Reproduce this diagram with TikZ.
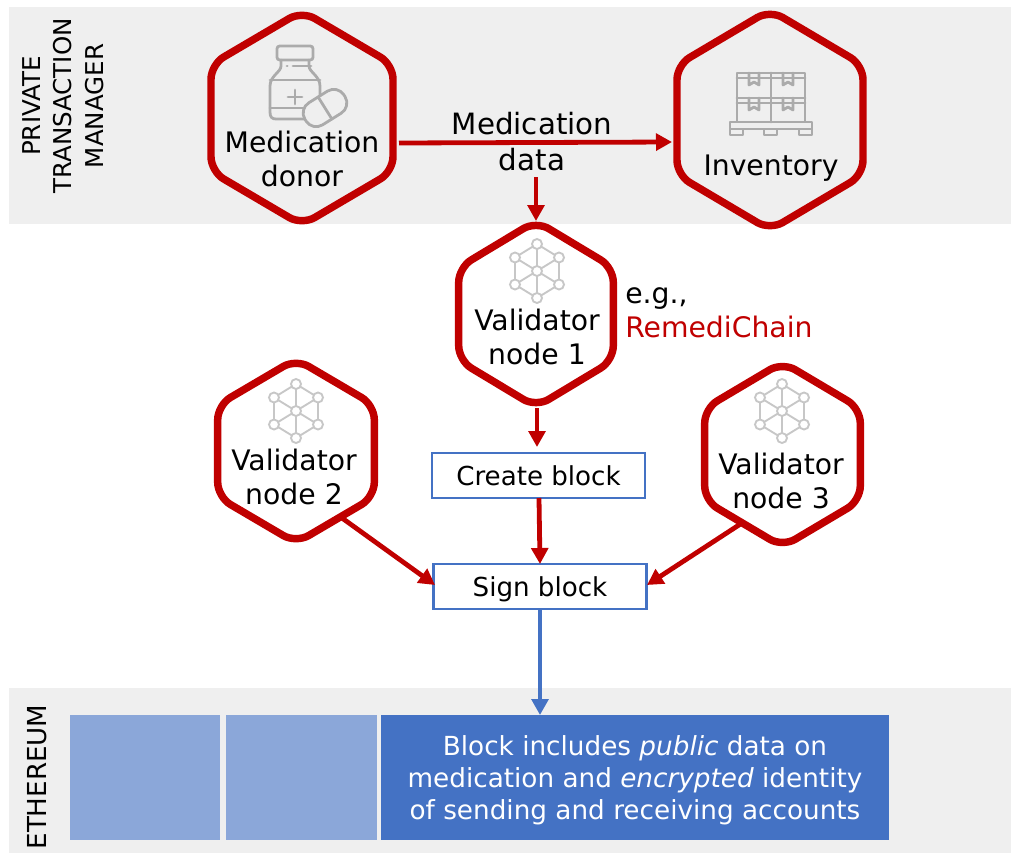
\documentclass[tikz,border=0pt]{standalone}
\usepackage{fontspec}
\setmainfont{DejaVu Sans}
\usetikzlibrary{calc,arrows.meta}
\definecolor{hexred}{HTML}{C00000}
\definecolor{band}{HTML}{EFEFEF}
\definecolor{bluedark}{HTML}{4472C4}
\definecolor{bluelight}{HTML}{8BA7D9}
\definecolor{icongrey}{HTML}{ABABAB}
\tikzset{
  x=0.75pt,y=-0.75pt,
  hexbox/.style={inner sep=0,outer sep=0},
  hexline/.style={draw=hexred,line width=5.6pt,rounded corners=11pt,fill=none,line join=round},
  redarrow/.style={draw=hexred,line width=3.6pt,-{Triangle[length=12pt,width=12.5pt]}},
  bluearrow/.style={draw=bluedark,line width=3.6pt,-{Triangle[length=12pt,width=12.5pt]}},
  blockbox/.style={draw=bluedark,line width=1.9pt,fill=white,inner sep=0,outer sep=0,text height=16pt,text depth=1.4pt,font=\fontsize{19.6pt}{22pt}\selectfont},
  hextext/.style={align=center,font=\fontsize{21.2pt}{25.7pt}\selectfont,inner sep=0},
  lab/.style={align=center,inner sep=0,font=\fontsize{22pt}{27pt}\selectfont},
  sidelab/.style={align=center,inner sep=0,rotate=90,font=\fontsize{18.4pt}{23.5pt}\selectfont},
  icon/.style={draw=icongrey,line width=2.1pt,line join=round,line cap=round},
  netw/.style={draw=black!22,line width=1.4pt}
}
% \hexa{name}{cx}{cy}{half width}{half height (sharp)}
\newcommand{\hexa}[5]{%
  \node[hexbox,minimum width=#4*1.5pt,minimum height=#5*1.5pt] (#1) at (#2,#3) {};
  \draw[hexline] (#1.north) -- ($(#1.north east)!0.25!(#1.south east)$) -- ($(#1.north east)!0.75!(#1.south east)$)
    -- (#1.south) -- ($(#1.north west)!0.75!(#1.south west)$) -- ($(#1.north west)!0.25!(#1.south west)$) -- cycle;
}
\newcommand{\netw}[2]{%
  \begin{scope}[shift={(#1,#2)}]
    \foreach \a/\b in {0/-27,22/-13.5,22/13.5,0/27,-22/13.5,-22/-13.5}{\draw[netw] (0,0) -- (\a,\b);}
    \draw[netw] (0,-27)--(22,-13.5)--(22,13.5)--(0,27)--(-22,13.5)--(-22,-13.5)--cycle;
    \foreach \a/\b in {0/0,0/-27,22/-13.5,22/13.5,0/27,-22/13.5,-22/-13.5}{\filldraw[netw,fill=white] (\a,\b) circle[radius=5];}
  \end{scope}}
\begin{document}
\begin{tikzpicture}
\useasboundingbox (0,0) rectangle (1011,854);
\fill[white] (0,0) rectangle (1011,854);
\fill[band] (9,7) rectangle (1011,224);
\fill[band] (9,688) rectangle (1011,853);
% side labels
\node[sidelab] (pm) at (63,106) {PRIVATE\\TRANSACTION\\MANAGER};
\node[sidelab,font=\fontsize{19.6pt}{23.5pt}\selectfont] (eth) at (37,777) {ETHEREUM};
% hexagons
\hexa{donor}{302}{118}{91}{107}
\hexa{inv}{770}{120}{93}{110}
\hexa{vone}{536}{314}{77.3}{93}
\hexa{vtwo}{296}{451}{78.3}{92}
\hexa{vthree}{782.5}{454.5}{77.8}{92.3}
% donor icon
\draw[icon,rounded corners=2pt] (277,46) rectangle (313,60);
\draw[icon] (281,60)--(281,66) .. controls (281,72) and (270,76) .. (270,86) -- (270,112) .. controls (270,117) and (272,119) .. (276,119) -- (304,119);
\draw[icon] (309,60)--(309,66) .. controls (309,72) and (320,76) .. (320,86) -- (320,98);
\draw[icon] (270,80)--(320,80);
\draw[icon] (270,108)--(303,108);
\draw[icon] (293,66)--(311,66) (287,66)--(287.2,66);
\draw[icon] (295,90)--(295,104) (288,97)--(302,97);
\begin{scope}[shift={(325,108)},rotate=32]
  \draw[icon,fill=band,rounded corners=9pt] (-23,-13) rectangle (23,13);
  \draw[icon] (0,-13)--(0,13);
\end{scope}
% inventory icon
\draw[icon] (737,73) rectangle (805,122);
\draw[icon] (737,98)--(805,98) (771,73)--(771,122);
\draw[icon] (737,78)--(805,78) (737,103)--(805,103);
\draw[icon] (749,73)--(749,85)--(754,82)--(759,85)--(759,73);
\draw[icon] (783,73)--(783,85)--(788,82)--(793,85)--(793,73);
\draw[icon] (749,98)--(749,110)--(754,107)--(759,110)--(759,98);
\draw[icon] (783,98)--(783,110)--(788,107)--(793,110)--(793,98);
\draw[icon] (730,122) rectangle (812,129);
\draw[icon] (730,129) rectangle (743,135) (764,129) rectangle (777,135) (799,129) rectangle (812,135);
% networks
\netw{537}{271}
\netw{296}{411}
\netw{782}{411}
% hexagon texts
\node[hextext] (tdonor) at (302,159) {Medication\\donor};
\node[hextext] (tinv) at (771,168) {Inventory};
\node[hextext] (tvone) at (537,337) {Validator\\node 1};
\node[hextext] (tvtwo) at (294,477) {Validator\\node 2};
\node[hextext] (tvthree) at (781,481) {Validator\\node 3};
% labels
\node[lab] (md) at (532,142) {Medication\\data};
\node[hextext,align=left,anchor=west] (eg) at (625,313) {e.g.,\\\textcolor{hexred}{RemediChain}};
% blocks
\node[blockbox,minimum width=159.75pt,minimum height=34pt] (create) at (538.5,475.5) {Create block};
\node[blockbox,minimum width=159.75pt,minimum height=33.75pt] (sign) at (540,586.5) {Sign block};
% ethereum blocks
\node[fill=bluelight,minimum width=112.5pt,minimum height=93.75pt,inner sep=0] (b1) at (145,777.5) {};
\node[fill=bluelight,minimum width=113.25pt,minimum height=93.75pt,inner sep=0] (b2) at (301.5,777.5) {};
\node[fill=bluedark,minimum width=381pt,minimum height=93.75pt,inner sep=0] (b3) at (635,777.5) {};
\node[inner sep=0,text=white,align=center,font=\fontsize{19.7pt}{24.1pt}\selectfont] (b3text) at (635,780.5) {Block includes \textit{public} data on\\medication and \textit{encrypted} identity\\of sending and receiving accounts};
% connectors
\coordinate (donorexit) at (399,143);
\coordinate (invin) at (672,142);
\coordinate (mdexit) at (536,177);
\coordinate (voneexit) at (537,408);
\coordinate (createin) at (537,447);
\coordinate (createexit) at (539,498);
\coordinate (signin) at (540,564);
\coordinate (vtwoexit) at (342,518);
\coordinate (signleft) at (435,585);
\coordinate (vthreeexit) at (742,523);
\coordinate (signright) at (647,585);
\coordinate (signexit) at (540,610);
\coordinate (blockin) at (540,715);
\draw[redarrow] (donorexit) -- (invin);
\draw[redarrow] (mdexit) -- (vone.north);
\draw[redarrow] (voneexit) -- (createin);
\draw[redarrow] (createexit) -- (signin);
\draw[redarrow] (vtwoexit) -- (signleft);
\draw[redarrow] (vthreeexit) -- (signright);
\draw[bluearrow] (signexit) -- (blockin);
\end{tikzpicture}
\end{document}
